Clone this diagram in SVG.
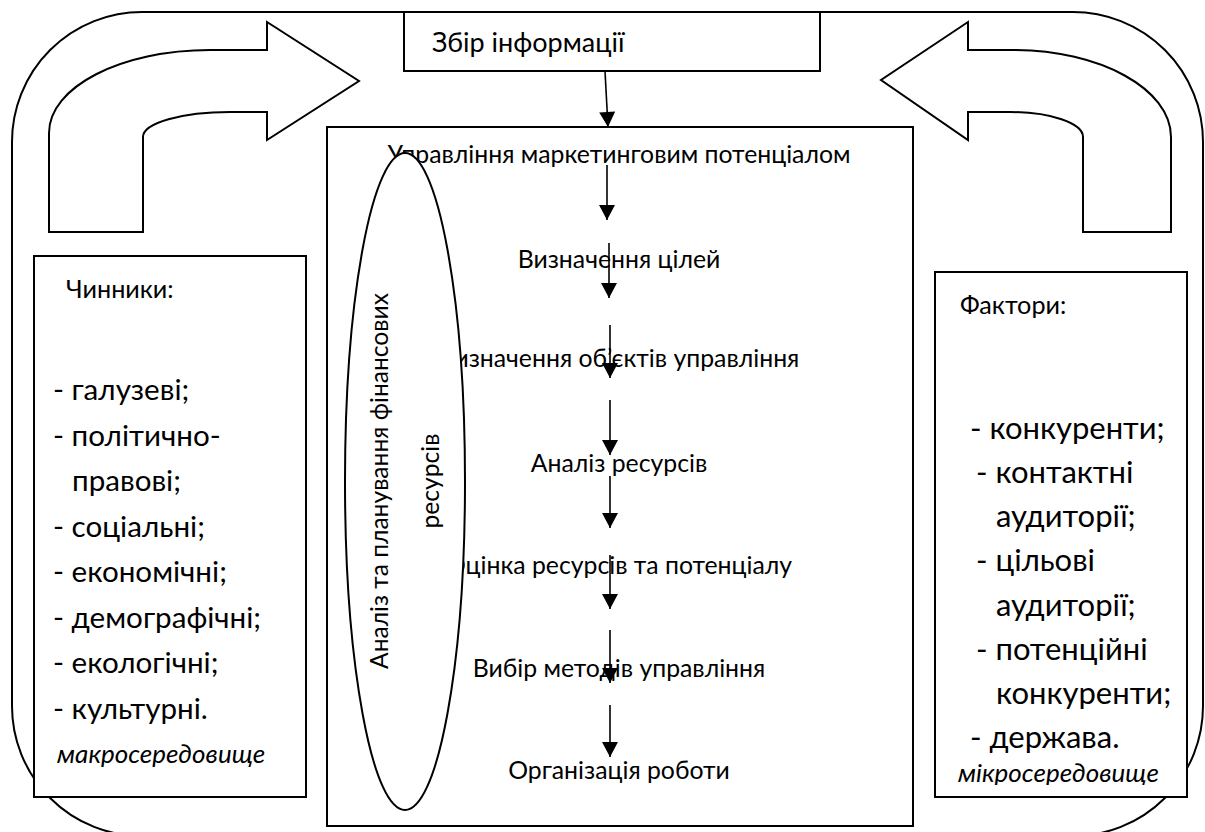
<svg xmlns="http://www.w3.org/2000/svg" width="1205" height="832" viewBox="0 0 1205 832">
<style>
.s{fill:none;stroke:#000;stroke-width:2}
.w{fill:#fff;stroke:#000;stroke-width:2}
.t{font-family:"Lato","Open Sans","DejaVu Sans",sans-serif;fill:#000}
.c{font-size:24.8px;text-anchor:middle}
.e{font-size:24.6px;text-anchor:middle}
.l{font-size:29.6px}
.r{font-size:31px}
.h{font-size:25.2px}
.i{font-size:26px;font-style:italic}
.a{stroke:#000;stroke-width:1.6;fill:none;marker-end:url(#ah)}
</style>
<defs>
<marker id="ah" markerUnits="userSpaceOnUse" markerWidth="16" markerHeight="16" viewBox="0 0 15 16" refX="15" refY="8" orient="auto">
<path d="M0,0 L15,8 L0,16 Z" fill="#000"/>
</marker>
<clipPath id="rclip"><rect x="936" y="273" width="250" height="512"/></clipPath>
</defs>
<rect id="outer" class="s" x="12" y="12" width="1191" height="824" rx="130" ry="130"/>
<g id="arrow-left">
<path class="w" d="M49,232 L49,133 C49,87 121,50 210,50 L267,50 L267,22 L359,81 L267,140 L267,112 L230,112 C182,112 143,123 143,137 L143,232 Z"/>
</g>
<g id="arrow-right">
<path class="w" d="M1171,232 L1171,137 C1171,89 1100,50 1013,50 L968,50 L968,22 L881,80 L968,140 L968,112 L1010,112 C1050,112 1083,123 1083,137 L1083,232 Z"/>
</g>
<g id="zbir">
<rect class="w" x="404" y="12" width="416" height="59"/>
<text class="t" x="432" y="52" style="font-size:27px">Збір інформації</text>
</g>
<g id="center">
<rect class="w" x="327" y="127" width="586" height="699"/>
<text class="t c" x="619" y="163">Управління маркетинговим потенціалом</text>
<text class="t c" x="619" y="268">Визначення цілей</text>
<text class="t c" x="619" y="367">Визначення об’єктів управління</text>
<text class="t c" x="619" y="472">Аналіз ресурсів</text>
<text class="t c" x="619" y="574">Оцінка ресурсів та потенціалу</text>
<text class="t c" x="619" y="677">Вибір методів управління</text>
<text class="t c" x="619" y="779">Організація роботи</text>
</g>
<g id="finance">
<ellipse class="w" cx="405" cy="481.5" rx="60" ry="328.5"/>
<text class="t e" transform="translate(388,481) rotate(-90)">Аналіз та планування фінансових</text>
<text class="t e" transform="translate(439,481) rotate(-90)">ресурсів</text>
</g>
<g id="macro">
<rect class="w" x="34" y="256" width="272" height="541"/>
<text class="t h" x="66" y="298">Чинники:</text>
<text class="t l" x="53" y="400">- галузеві;</text>
<text class="t l" x="53" y="445.5">- політично-</text>
<text class="t l" x="72" y="491">правові;</text>
<text class="t l" x="53" y="536.5">- соціальні;</text>
<text class="t l" x="53" y="582">- економічні;</text>
<text class="t l" x="53" y="627.5">- демографічні;</text>
<text class="t l" x="53" y="673">- екологічні;</text>
<text class="t l" x="53" y="718.5">- культурні.</text>
<text class="t i" x="57" y="763">макросередовище</text>
</g>
<g id="micro">
<rect class="w" x="935" y="272" width="252" height="525"/>
<text class="t h" x="960" y="314">Фактори:</text>
<text class="t r" x="970" y="439">- конкуренти;</text>
<text class="t r" x="976" y="483">- контактні</text>
<text class="t r" x="996" y="527">аудиторії;</text>
<text class="t r" x="976" y="571">- цільові</text>
<text class="t r" x="996" y="616">аудиторії;</text>
<text class="t r" x="976" y="660">- потенційні</text>
<text class="t r" x="996" y="704">конкуренти;</text>
<text class="t r" x="970" y="748">- держава.</text>
<text class="t i" x="958" y="782" clip-path="url(#rclip)">мікросередовище</text>
</g>
<g id="connectors">
<line class="a" x1="605" y1="71" x2="608" y2="127"/>
<line class="a" x1="607" y1="165" x2="607" y2="220"/>
<line class="a" x1="609" y1="243" x2="609" y2="298"/>
<line class="a" x1="610" y1="325" x2="610" y2="378"/>
<line class="a" x1="610" y1="400" x2="610" y2="455"/>
<line class="a" x1="610" y1="476" x2="610" y2="528"/>
<line class="a" x1="610" y1="555" x2="610" y2="609"/>
<line class="a" x1="610" y1="630" x2="610" y2="683"/>
<line class="a" x1="610" y1="705" x2="610" y2="757"/>
</g>
</svg>
